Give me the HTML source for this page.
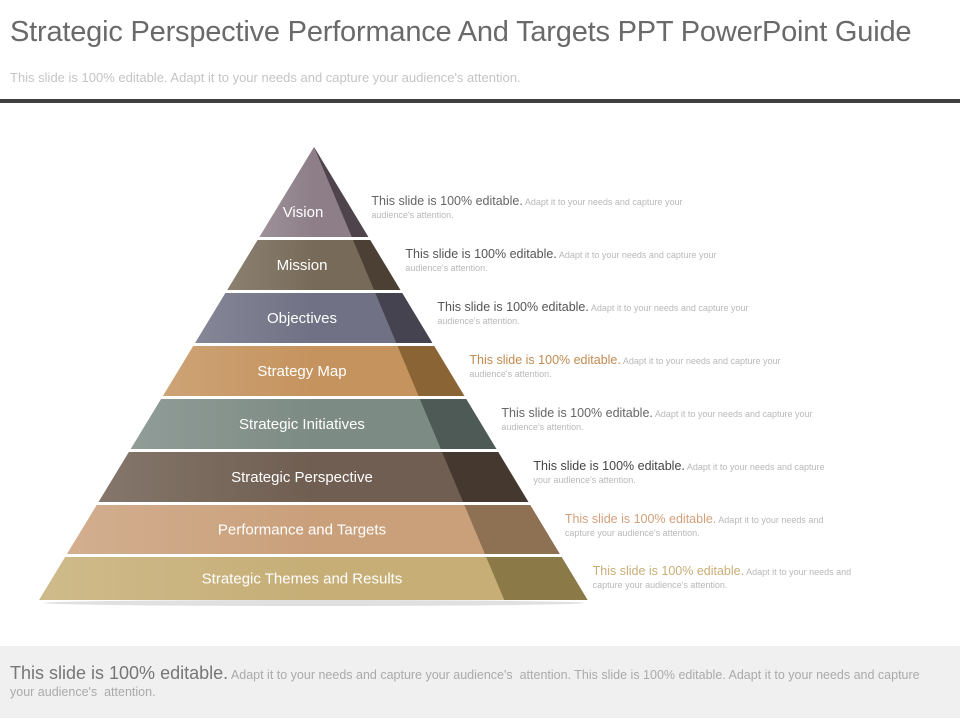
<!DOCTYPE html>
<html><head><meta charset="utf-8">
<style>
html,body{margin:0;padding:0;background:#fff;width:960px;height:720px;overflow:hidden;font-family:"Liberation Sans",sans-serif}
#title{position:absolute;left:10px;top:16px;font-size:29px;color:#6a6a6a;letter-spacing:-0.2px;white-space:nowrap}
#sub{position:absolute;left:10px;top:70px;font-size:13px;color:#c4c4c4;white-space:nowrap}
#rule{position:absolute;left:0;top:99px;width:960px;height:4px;background:#3f3f3f}
#footer{position:absolute;left:0;top:646px;width:960px;height:72px;background:#f0f0f0}
#footer p{margin:0;position:absolute;left:10px;top:19px;width:930px;font-size:12.5px;color:#aaa;line-height:17px}
#footer b{font-weight:normal;font-size:18px;color:#777}
svg{position:absolute;left:0;top:0}
</style></head><body>
<div id="title">Strategic Perspective Performance And Targets PPT PowerPoint Guide</div>
<div id="sub">This slide is 100% editable. Adapt it to your needs and capture your audience's attention.</div>
<div id="rule"></div>
<svg id="chart" width="960" height="720"></svg>
<div id="footer"><p><b>This slide is 100% editable.</b> Adapt it to your needs and capture your audience's&nbsp; attention. This slide is 100% editable. Adapt it to your needs and capture your audience's&nbsp; attention.</p></div>
<script>
const labels=["Vision","Mission","Objectives","Strategy Map","Strategic Initiatives","Strategic Perspective","Performance and Targets","Strategic Themes and Results"];
const fills=["#8d7e87","#776a58","#707184","#c5935e","#7d8b85","#6f5e51","#caa07b","#c6ae76"];
const darks=["#4f444b","#4b4033","#44434f","#8a6434","#4e5a56","#45392f","#8e7053","#8b7947"];
const headColors=["#666","#555","#555","#c08a50","#666","#444","#d4a07a","#c9ae76"];
const bandTops=[147,240,293,346,399,452,505,557];
const bandBots=[237,290,343,396,449,502,554,600];
const lines2=[["Adapt it to your needs and capture your","audience's attention."],["Adapt it to your needs and capture your","audience's attention."],["Adapt it to your needs and capture your","audience's attention."],["Adapt it to your needs and capture your","audience's attention."],["Adapt it to your needs and capture your","audience's attention."],["Adapt it to your needs and capture","your audience's attention."],["Adapt it to your needs and","capture your audience's attention."],["Adapt it to your needs and","capture your audience's attention."]];
const NS="http://www.w3.org/2000/svg";
const svg=document.getElementById('chart');
const apexX=314,apexY=147,slopeL=0.607,slopeR=0.604,slopeD=0.42;
function xl(y){return apexX-(y-apexY)*slopeL;}
function xr(y){return apexX+(y-apexY)*slopeR;}
function xd(y){return apexX+(y-apexY)*slopeD;}
function mk(tag,attrs){const e=document.createElementNS(NS,tag);for(const k in attrs)e.setAttribute(k,attrs[k]);svg.appendChild(e);return e;}
const defs=mk('defs',{});
// shadow under base
const sh=mk('ellipse',{cx:314,cy:603,rx:270,ry:3,fill:'#ccc',opacity:0.6});


labels.forEach((lab,i)=>{
  const t=bandTops[i],b=bandBots[i];
  const g=document.createElementNS(NS,'linearGradient');
  g.setAttribute('id','g'+i);g.setAttribute('x1','0');g.setAttribute('x2','1');
  g.innerHTML='<stop offset="0" stop-color="'+fills[i]+'" stop-opacity="0.85"/><stop offset="0.5" stop-color="'+fills[i]+'"/><stop offset="1" stop-color="'+fills[i]+'"/>';
  defs.appendChild(g);
  const p=i===0?`${apexX},${t} ${xr(b)},${b} ${xl(b)},${b}`:`${xl(t)},${t} ${xr(t)},${t} ${xr(b)},${b} ${xl(b)},${b}`;
  const band=mk('polygon',{points:p,fill:'url(#g'+i+')'});
  
  
  const dp=i===0?`${apexX},${t} ${xr(b)},${b} ${xd(b)},${b}`:`${xd(t)},${t} ${xr(t)},${t} ${xr(b)},${b} ${xd(b)},${b}`;
  const dk=mk('polygon',{points:dp,fill:darks[i]});
  
  
  const ty=i===0?(t+b)/2+25:(t+b)/2+5;
  const tx=mk('text',{x:i===0?303:302,y:ty,'text-anchor':'middle','font-size':15,fill:'#fff','font-family':'Liberation Sans, sans-serif'});
  tx.textContent=lab;
  
  
  const cx=xr(b)+ (i===0?3:5);
  const cy=i===0?205:t+18;
  const c1=mk('text',{x:cx,y:cy,'font-size':12.5,fill:headColors[i],'font-family':'Liberation Sans, sans-serif'});
  c1.innerHTML='This slide is 100% editable.<tspan font-size="9" fill="#b8b8b8"> '+lines2[i][0]+'</tspan>';
  
  
  const c2=mk('text',{x:cx,y:cy+13,'font-size':9,fill:'#b8b8b8','font-family':'Liberation Sans, sans-serif'});
  c2.textContent=lines2[i][1];
  
  
});
</script>
</body></html>
